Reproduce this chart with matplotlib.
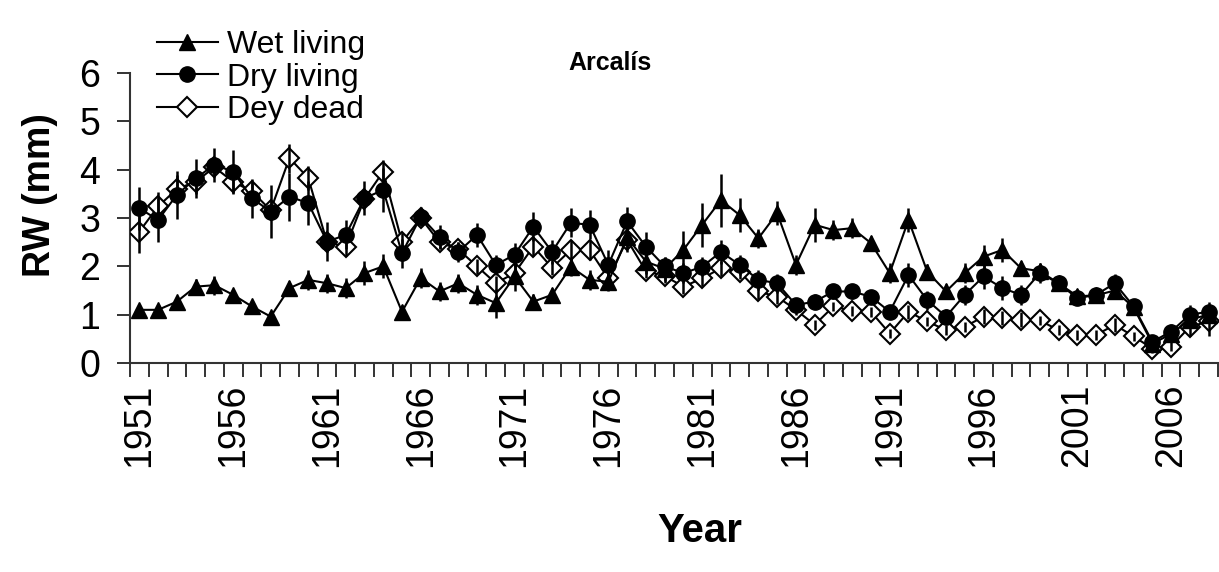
import numpy as np
import matplotlib
matplotlib.use("Agg")
import matplotlib.pyplot as plt
from matplotlib.lines import Line2D
from matplotlib.ticker import FixedLocator

plt.rcParams['font.family'] = ['Liberation Sans', 'DejaVu Sans']

years = np.arange(1951, 2009)

# ring width (mm), mean and error per year
wet_living = [1.10, 1.10, 1.27, 1.58, 1.61, 1.41, 1.17, 0.96, 1.55, 1.72,
              1.65, 1.55, 1.86, 2.00, 1.06, 1.76, 1.48, 1.65, 1.41, 1.24,
              1.79, 1.27, 1.41, 1.99, 1.72, 1.68, 2.60, 2.10, 1.95, 2.34,
              2.86, 3.37, 3.06, 2.58, 3.10, 2.03, 2.86, 2.75, 2.79, 2.48,
              1.86, 2.96, 1.89, 1.48, 1.86, 2.20, 2.34, 1.96, 1.90, 1.65,
              1.38, 1.40, 1.50, 1.15, 0.40, 0.60, 0.90, 1.00]
wet_err = [0.10, 0.10, 0.12, 0.15, 0.20, 0.12, 0.10, 0.10, 0.15, 0.20,
           0.20, 0.20, 0.25, 0.25, 0.15, 0.20, 0.20, 0.20, 0.20, 0.30,
           0.30, 0.15, 0.15, 0.20, 0.20, 0.20, 0.30, 0.25, 0.25, 0.40,
           0.45, 0.55, 0.35, 0.20, 0.25, 0.20, 0.35, 0.20, 0.20, 0.15,
           0.20, 0.25, 0.15, 0.15, 0.20, 0.25, 0.25, 0.15, 0.15, 0.15,
           0.15, 0.15, 0.15, 0.15, 0.10, 0.10, 0.15, 0.15]

dry_living = [3.20, 2.96, 3.48, 3.82, 4.10, 3.96, 3.41, 3.13, 3.44, 3.31,
              2.51, 2.65, 3.41, 3.58, 2.27, 3.03, 2.61, 2.30, 2.65, 2.03,
              2.24, 2.82, 2.30, 2.90, 2.86, 2.03, 2.93, 2.41, 2.00, 1.86,
              1.99, 2.30, 2.03, 1.72, 1.65, 1.20, 1.27, 1.48, 1.48, 1.37,
              1.06, 1.82, 1.30, 0.96, 1.41, 1.79, 1.55, 1.41, 1.86, 1.65,
              1.34, 1.41, 1.65, 1.17, 0.44, 0.65, 1.00, 1.06]
dry_err = [0.45, 0.45, 0.50, 0.40, 0.35, 0.45, 0.40, 0.55, 0.50, 0.45,
           0.40, 0.30, 0.35, 0.45, 0.30, 0.20, 0.25, 0.20, 0.25, 0.20,
           0.25, 0.30, 0.25, 0.30, 0.30, 0.30, 0.30, 0.30, 0.20, 0.20,
           0.20, 0.25, 0.20, 0.20, 0.20, 0.15, 0.15, 0.15, 0.15, 0.15,
           0.15, 0.25, 0.20, 0.15, 0.20, 0.25, 0.25, 0.20, 0.20, 0.15,
           0.15, 0.15, 0.20, 0.15, 0.10, 0.15, 0.20, 0.20]

dry_dead = [2.72, 3.24, 3.60, 3.75, 4.05, 3.75, 3.55, 3.16, 4.24, 3.83,
            2.50, 2.41, 3.40, 3.96, 2.50, 3.00, 2.50, 2.35, 2.00, 1.65,
            1.86, 2.41, 1.97, 2.34, 2.34, 1.75, 2.55, 1.90, 1.80, 1.58,
            1.75, 1.96, 1.89, 1.48, 1.37, 1.10, 0.79, 1.17, 1.08, 1.06,
            0.61, 1.06, 0.86, 0.68, 0.75, 0.96, 0.93, 0.90, 0.88, 0.68,
            0.58, 0.58, 0.79, 0.55, 0.30, 0.34, 0.75, 0.86]
dead_err = [0.45, 0.30, 0.30, 0.25, 0.20, 0.25, 0.20, 0.20, 0.30, 0.25,
            0.20, 0.20, 0.20, 0.25, 0.20, 0.15, 0.15, 0.15, 0.15, 0.15,
            0.20, 0.20, 0.15, 0.20, 0.20, 0.20, 0.20, 0.15, 0.15, 0.15,
            0.15, 0.15, 0.15, 0.15, 0.15, 0.10, 0.10, 0.10, 0.10, 0.10,
            0.10, 0.15, 0.10, 0.10, 0.10, 0.15, 0.15, 0.15, 0.10, 0.10,
            0.10, 0.10, 0.15, 0.10, 0.10, 0.10, 0.20, 0.30]

year_labels = np.arange(1951, 2007, 5)

fig = plt.figure(figsize=(12.19, 5.72), dpi=100)
ax = fig.add_axes([130 / 1219, 209 / 572, 1088 / 1219, 290 / 572])

lw = 1.5
ax.plot(years, dry_dead, color='black', lw=lw, marker='D', ms=10,
        mfc='white', mec='black', mew=1.5, zorder=3)
ax.plot(years, dry_living, color='black', lw=lw, marker='o', ms=11,
        mfc='black', mec='black', zorder=3)
ax.plot(years, wet_living, color='black', lw=lw, marker='^', ms=11,
        mfc='black', mec='black', zorder=3)

for vals, err in [(dry_dead, dead_err), (dry_living, dry_err), (wet_living, wet_err)]:
    ax.errorbar(years, vals, yerr=err, fmt='none', ecolor='black',
                elinewidth=1.8, capsize=0, zorder=4)

ax.set_xlim(1950.5, 2008.5)
ax.set_ylim(0, 6)
ax.set_yticks(range(0, 7))

ax.set_xticks(year_labels)
ax.set_xticklabels([str(y) for y in year_labels], rotation=90)
ax.xaxis.set_minor_locator(FixedLocator(np.arange(1950.5, 2009, 1.0)))
ax.tick_params(axis='x', which='major', length=0, pad=15, labelsize=27)
ax.tick_params(axis='x', which='minor', length=10, width=1.4,
               direction='out', color='#333333')
ax.tick_params(axis='y', length=9.5, width=1.4, pad=12, labelsize=27,
               direction='out', color='#333333')

for side in ['top', 'right']:
    ax.spines[side].set_visible(False)
for side in ['left', 'bottom']:
    ax.spines[side].set_linewidth(1.5)
    ax.spines[side].set_color('#333333')

fig.text(40 / 1219, 1 - 195 / 572, 'RW (mm)', rotation=90, ha='center',
         va='center', fontsize=27, fontweight='bold')
fig.text(700 / 1219, 1 - 531 / 572, 'Year', ha='center', va='center',
         fontsize=29, fontweight='bold')
fig.text(610 / 1219, 1 - 63 / 572, 'Arcalís', ha='center', va='center',
         fontsize=18, fontweight='bold')

handles = [
    Line2D([], [], color='black', lw=lw, marker='^', ms=11, mfc='black'),
    Line2D([], [], color='black', lw=lw, marker='o', ms=11, mfc='black'),
    Line2D([], [], color='black', lw=lw, marker='D', ms=10, mfc='white',
           mec='black', mew=1.5),
]
fig.legend(handles, ['Wet living', 'Dry living', 'Dey dead'],
           loc='upper left', bbox_to_anchor=(157 / 1219, 1 - 30 / 572),
           frameon=False, fontsize=23, handlelength=1.9, handletextpad=0.3,
           labelspacing=0.08, borderpad=0, borderaxespad=0, numpoints=1)

fig.savefig('out.png', dpi=100)
